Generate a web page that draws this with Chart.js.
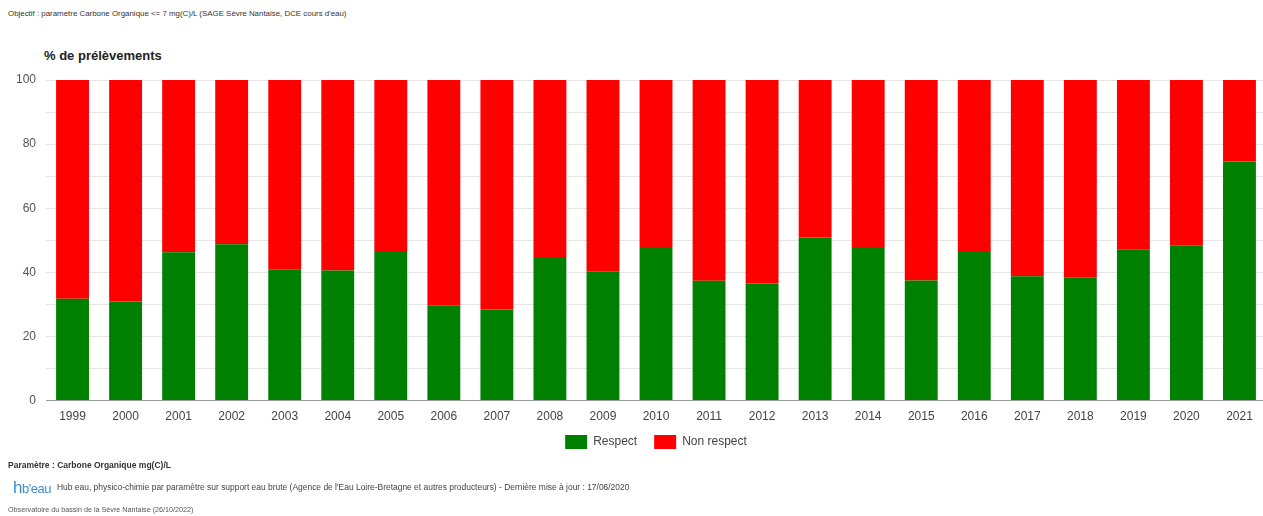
<!DOCTYPE html>
<html>
<head>
<meta charset="utf-8">
<script src="https://cdn.jsdelivr.net/npm/chart.js@4/dist/chart.umd.min.js"></script>
<style>
    body {
        margin: 0;
        overflow: hidden;
        background: #fff;
        font-family: "Liberation Sans", Arial, sans-serif;
        width: 1263px;
        height: 516px;
        position: relative;
    }
    .txt {
        position: absolute;
        white-space: nowrap;
        color: #333;
    }
    .chart-container {
        position: absolute;
        left: 0;
        top: 45px;
        width: 1266px;
        height: 425px;
    }
</style>
</head>
<body>
    <div class="txt" style="left:8px;top:9px;font-size:7.9px;">Objectif : parametre Carbone Organique &lt;= 7 mg(C)/L (SAGE Sèvre Nantaise, DCE cours d'eau)</div>
    <div class="txt" style="left:44px;top:48px;font-size:13px;font-weight:bold;color:#222;">% de prélèvements</div>
    <div class="chart-container">
        <canvas id="chart"></canvas>
    </div>
    <div class="txt" style="left:8px;top:460px;font-size:8.5px;font-weight:bold;color:#333;">Paramètre : Carbone Organique mg(C)/L</div>
    <div class="txt" style="left:13px;top:478px;font-size:13px;color:#3b8fd4;letter-spacing:-0.5px;"><span style="font-size:17px;">h</span>b'eau</div>
    <div class="txt" style="left:57px;top:482px;font-size:8.45px;color:#444;">Hub eau, physico-chimie par paramètre sur support eau brute (Agence de l'Eau Loire-Bretagne et autres producteurs) - Dernière mise à jour : 17/06/2020</div>
    <div class="txt" style="left:8px;top:505px;font-size:7.2px;color:#555;">Observatoire du bassin de la Sèvre Nantaise (26/10/2022)</div>

    <script>
        const years = ["1999", "2000", "2001", "2002", "2003", "2004", "2005", "2006", "2007", "2008", "2009", "2010",
            "2011", "2012", "2013", "2014", "2015", "2016", "2017", "2018", "2019", "2020", "2021"]
        const respect = [31.8, 30.9, 46.3, 48.8, 41.0, 40.6, 46.7, 29.6, 28.4, 44.8, 40.2, 47.6,
            37.4, 36.5, 50.9, 47.6, 37.5, 46.7, 38.8, 38.3, 47.2, 48.3, 74.6]
        const nonRespect = [68.2, 69.1, 53.7, 51.2, 59.0, 59.4, 53.3, 70.4, 71.6, 55.2, 59.8, 52.4,
            62.6, 63.5, 49.1, 52.4, 62.5, 53.3, 61.2, 61.7, 52.8, 51.7, 25.4]
        const yTicks = [0, 20, 40, 60, 80, 100]

        // legend centred on the plot area (not the canvas) and pulled up a bit
        const placeLegend = {
            id: "placeLegend",
            afterLayout(chart) {
                const lg = chart.legend
                const area = chart.chartArea
                const dx = (area.left + area.right) / 2 - (lg.left + lg.right) / 2
                lg.left += dx
                lg.right += dx
                lg.top -= 7
                lg.bottom -= 7
            }
        }

        const ctx = document.getElementById("chart").getContext("2d")
        new Chart(ctx, {
            type: "bar",
            data: {
                labels: years,
                datasets: [
                    {
                        label: "Respect",
                        data: respect,
                        backgroundColor: "#008000",
                        categoryPercentage: 1,
                        barPercentage: 0.62
                    },
                    {
                        label: "Non respect",
                        data: nonRespect,
                        backgroundColor: "#ff0000",
                        categoryPercentage: 1,
                        barPercentage: 0.62
                    }
                ]
            },
            plugins: [placeLegend],
            options: {
                responsive: true,
                maintainAspectRatio: false,
                animation: false,
                layout: {
                    padding: {top: 35, left: 6, right: 0, bottom: 4}
                },
                plugins: {
                    legend: {
                        position: "bottom",
                        labels: {
                            boxWidth: 22,
                            boxHeight: 14,
                            padding: 17,
                            color: "#444",
                            font: {size: 12, family: "Liberation Sans"}
                        }
                    },
                    tooltip: {enabled: false}
                },
                scales: {
                    x: {
                        stacked: true,
                        grid: {display: false},
                        border: {color: "#999"},
                        ticks: {
                            color: "#444",
                            font: {size: 12, family: "Liberation Sans"},
                            maxRotation: 0,
                            padding: 1
                        }
                    },
                    y: {
                        stacked: true,
                        min: 0,
                        max: 100,
                        border: {display: false},
                        grid: {
                            color: (c) => c.tick && c.tick.value === 0 ? "#999" : "#e6e6e6",
                            drawTicks: false
                        },
                        ticks: {
                            stepSize: 10,
                            color: "#555",
                            padding: 10,
                            font: {size: 12, family: "Liberation Sans"},
                            callback: (v) => yTicks.includes(v) ? v : ""
                        }
                    }
                }
            }
        })
    </script>
</body>
</html>
